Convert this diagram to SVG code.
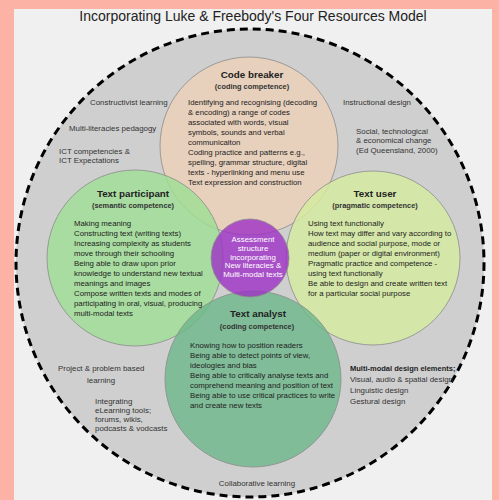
<svg xmlns="http://www.w3.org/2000/svg" width="499" height="500" viewBox="0 0 499 500">
  <style>
    text { font-family: "Liberation Sans", Arial, sans-serif; fill: #222; }
    .title { font-size: 14px; text-anchor: middle; }
    .head { font-size: 9.8px; font-weight: bold; text-anchor: middle; }
    .sub { font-size: 7.4px; font-weight: bold; text-anchor: middle; fill: #333; }
    .body { font-size: 7.8px; }
    .note { font-size: 7.9px; fill: #333; }
    .noteb { font-size: 7.5px; font-weight: bold; }
    .centre { font-size: 7.9px; fill: #fff; text-anchor: middle; }
    .ring { fill-opacity: 0.8; stroke: #8c8c8c; stroke-width: 0.8; }
  </style>
  <rect x="0" y="0" width="499" height="500" fill="#fcb3a6"/>
  <rect x="14" y="9" width="478" height="491" fill="#f0f0f0"/>
  <text class="title" x="253" y="21">Incorporating Luke &amp; Freebody's Four Resources Model</text>

  <!-- outer context ring -->
  <g id="context">
    <circle cx="250" cy="263" r="234" fill="#cfcfcf" stroke="#000" stroke-width="3" stroke-dasharray="8 5"/>
    <text class="note" x="90" y="105">Constructivist learning</text>
    <text class="note" x="69" y="131">Multi-literacies pedagogy</text>
    <text class="note" x="59" y="154">ICT competencies &amp;</text>
    <text class="note" x="59" y="163">ICT Expectations</text>
    <text class="note" x="343" y="105">Instructional design</text>
    <text class="note" x="356" y="134">Social, technological</text>
    <text class="note" x="356" y="143">&amp; economical change</text>
    <text class="note" x="356" y="153">(Ed Queensland, 2000)</text>
    <text class="note" x="58" y="371">Project &amp; problem based</text>
    <text class="note" x="87" y="383">learning</text>
    <text class="note" x="95" y="404">Integrating</text>
    <text class="note" x="95" y="413">eLearning tools;</text>
    <text class="note" x="95" y="422">forums, wikis,</text>
    <text class="note" x="95" y="431">podcasts &amp; vodcasts</text>
    <text class="noteb" x="350" y="371">Multi-modal design elements;</text>
    <text class="note" x="350" y="382">Visual, audio &amp; spatial design</text>
    <text class="note" x="350" y="393">Linguistic design</text>
    <text class="note" x="350" y="404">Gestural design</text>
    <text class="note" x="257" y="486" text-anchor="middle">Collaborative learning</text>
  </g>

  <!-- the four resource circles -->
  <g id="code-breaker">
    <circle class="ring" cx="249" cy="146" r="89" fill="#ecd0b6"/>
  </g>
  <g id="text-participant">
    <circle class="ring" cx="135" cy="258" r="88" fill="#9edf94"/>
  </g>
  <g id="text-user">
    <circle class="ring" cx="373" cy="258" r="87" fill="#d5ec9e"/>
  </g>
  <g id="text-analyst">
    <circle class="ring" cx="253" cy="379" r="88" fill="#6cb78a"/>
  </g>
  <g id="assessment">
    <circle class="ring" cx="250" cy="258" r="39" fill="#9e30c6"/>
  </g>

  <!-- labels -->
  <g id="code-breaker-text">
    <text class="head" x="252" y="78">Code breaker</text>
    <text class="sub" x="252" y="89">(coding competence)</text>
    <text class="body" x="188" y="105">Identifying and recognising (decoding</text>
    <text class="body" x="188" y="115">&amp; encoding) a range of codes</text>
    <text class="body" x="188" y="125">associated with words, visual</text>
    <text class="body" x="188" y="135">symbols, sounds and verbal</text>
    <text class="body" x="188" y="145">communicaiton</text>
    <text class="body" x="188" y="155">Coding practice and patterns e.g.,</text>
    <text class="body" x="188" y="165">spelling, grammar structure, digital</text>
    <text class="body" x="188" y="175">texts - hyperlinking and menu use</text>
    <text class="body" x="188" y="185">Text expression and construction</text>
  </g>
  <g id="text-participant-text">
    <text class="head" x="133" y="197">Text participant</text>
    <text class="sub" x="133" y="208">(semantic competence)</text>
    <text class="body" x="74" y="226">Making meaning</text>
    <text class="body" x="74" y="236">Constructing text (writing texts)</text>
    <text class="body" x="74" y="246">Increasing complexity as students</text>
    <text class="body" x="74" y="256">move through their schooling</text>
    <text class="body" x="74" y="266">Being able to draw upon prior</text>
    <text class="body" x="74" y="276">knowledge to understand new textual</text>
    <text class="body" x="74" y="286">meanings and images</text>
    <text class="body" x="74" y="296">Compose written texts and modes of</text>
    <text class="body" x="74" y="306">participating in oral, visual, producing</text>
    <text class="body" x="74" y="316">multi-modal texts</text>
  </g>
  <g id="text-user-text">
    <text class="head" x="375" y="197">Text user</text>
    <text class="sub" x="375" y="208">(pragmatic competence)</text>
    <text class="body" x="308" y="226">Using text functionally</text>
    <text class="body" x="308" y="236">How text may differ and vary according to</text>
    <text class="body" x="308" y="246">audience and social purpose, mode or</text>
    <text class="body" x="308" y="256">medium (paper or digital environment)</text>
    <text class="body" x="308" y="266">Pragmatic practice and competence -</text>
    <text class="body" x="308" y="276">using text functionally</text>
    <text class="body" x="308" y="286">Be able to design and create written text</text>
    <text class="body" x="308" y="296">for a particular social purpose</text>
  </g>
  <g id="text-analyst-text">
    <text class="head" x="258" y="317">Text analyst</text>
    <text class="sub" x="257" y="329">(coding competence)</text>
    <text class="body" x="190" y="348">Knowing how to position readers</text>
    <text class="body" x="190" y="358">Being able to detect points of view,</text>
    <text class="body" x="190" y="368">ideologies and bias</text>
    <text class="body" x="190" y="378">Being able to critically analyse texts and</text>
    <text class="body" x="190" y="388">comprehend meaning and position of text</text>
    <text class="body" x="190" y="398">Being able to use critical practices to write</text>
    <text class="body" x="190" y="408">and create new texts</text>
  </g>
  <g id="assessment-text">
    <text class="centre" x="253" y="242">Assessment</text>
    <text class="centre" x="253" y="250.8">structure</text>
    <text class="centre" x="253" y="259.5">incorporating</text>
    <text class="centre" x="253" y="268.2">New literacies &amp;</text>
    <text class="centre" x="253" y="277">Multi-modal texts</text>
  </g>
</svg>
